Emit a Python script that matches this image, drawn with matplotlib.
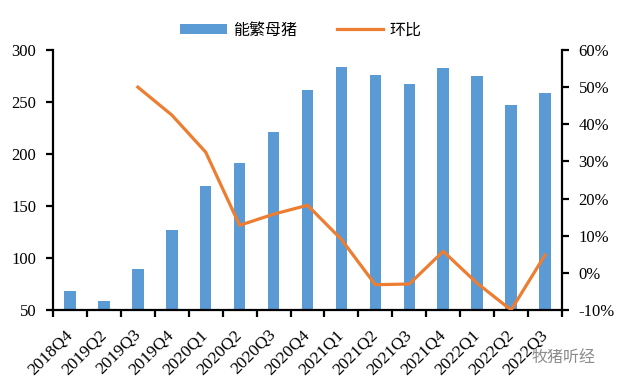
import matplotlib
matplotlib.use("Agg")
import matplotlib.pyplot as plt
import numpy as np
from matplotlib.ticker import FuncFormatter, FixedLocator, NullFormatter

categories = ["2018Q4", "2019Q2", "2019Q3", "2019Q4", "2020Q1", "2020Q2", "2020Q3",
              "2020Q4", "2021Q1", "2021Q2", "2021Q3", "2021Q4", "2022Q1", "2022Q2", "2022Q3"]
sows = [68, 59, 89, 127, 169, 191, 221, 262, 284, 276, 267, 283, 275, 247, 259]
qoq = [None, None, 50.0, 42.5, 32.5, 12.8, 15.8, 18.2, 9.0, -3.2, -3.0, 5.8, -2.8, -10.0, 4.8]

serif = ["Liberation Serif", "DejaVu Serif"]
cjk = ["Noto Sans CJK SC", "DejaVu Sans"]

W, H = 623, 385
fig = plt.figure(figsize=(W/100, H/100), dpi=100)
L, R, T, B = 53, 562, 50, 310
ax = fig.add_axes([L/W, 1-B/H, (R-L)/W, (B-T)/H])
x = np.arange(len(categories))
bars = ax.bar(x, sows, width=0.34, color="#5B9BD5", label="能繁母猪", zorder=2)
ax.set_xlim(-0.5, len(categories)-0.5)
ax.set_ylim(50, 300)
ax.set_yticks([50, 100, 150, 200, 250, 300])

ax2 = ax.twinx()
xi = [i for i, v in enumerate(qoq) if v is not None]
yv = [v for v in qoq if v is not None]
line, = ax2.plot(xi, yv, color="#ED7D31", lw=2.3, label="环比", zorder=3)
ax2.set_ylim(-10, 60)
ax2.set_yticks(np.arange(-10, 61, 10))
ax2.yaxis.set_major_formatter(FuncFormatter(lambda v, p: f"{int(round(v))}%"))

for a in (ax, ax2):
    a.spines["top"].set_visible(False)
    for s in a.spines.values():
        s.set_linewidth(1.6)
        s.set_color("black")

ax.spines["right"].set_visible(False)
ax2.spines["left"].set_visible(False)
ax2.spines["bottom"].set_visible(False)

ax.tick_params(axis="y", direction="out", length=5, width=1.6, labelsize=12, pad=7)
ax2.tick_params(axis="y", direction="out", length=5, width=1.6, labelsize=12, pad=7)
for lab in ax.get_yticklabels() + ax2.get_yticklabels():
    lab.set_fontfamily(serif)

# x ticks: marks at category boundaries, labels at centres
ax.set_xticks(x)
ax.set_xticklabels(categories, rotation=45, ha="right", va="center",
                   rotation_mode="anchor", fontfamily=serif, fontsize=12.5)
ax.tick_params(axis="x", which="major", length=0, pad=16)
ax.xaxis.set_minor_locator(FixedLocator(np.arange(-0.5, len(categories), 1.0)))
ax.xaxis.set_minor_formatter(NullFormatter())
ax.tick_params(axis="x", which="minor", direction="out", length=5, width=1.6)

handles = [bars, line]
fig.legend(handles, ["能繁母猪", "环比"], loc="center", bbox_to_anchor=(301/W, 1-30/H),
           ncol=2, frameon=False, prop={"family": cjk, "size": 11.5},
           handlelength=2.9, handleheight=0.55, handletextpad=0.4, columnspacing=2.5)

fig.text(596/W, 1-357/H, "牧猪听经", ha="right", va="center", fontsize=11.5,
         family=cjk, color="#8c8c8c")

fig.savefig("out.png", dpi=100)
